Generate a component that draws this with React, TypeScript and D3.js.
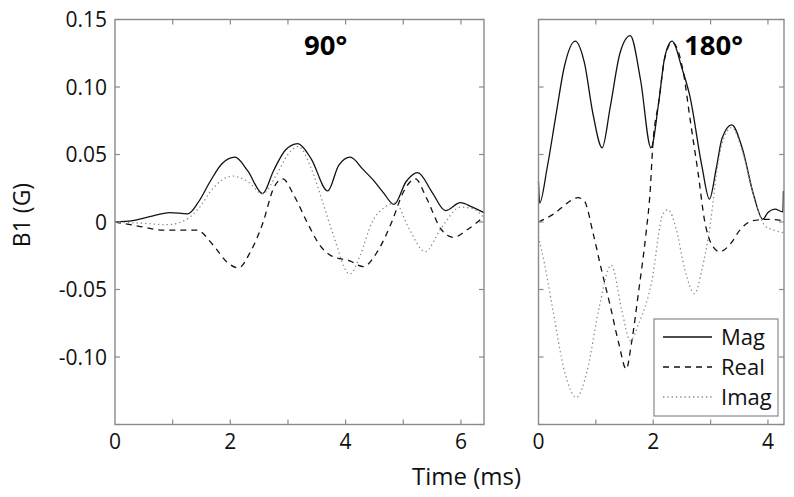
import React from "react";
import * as d3 from "d3";

// ---- Data (time in ms, B1 in G) ----
const magL_t = [0, 0.3, 0.6, 0.95, 1.26, 1.45, 1.65, 1.85, 2.08, 2.3, 2.56, 2.75, 2.95, 3.17, 3.4, 3.69, 3.88, 4.08, 4.3, 4.48, 4.65, 4.84, 5.05, 5.25, 5.5, 5.73, 5.99, 6.2, 6.4];
const magL_v = [0, 0.001, 0.004, 0.007, 0.006, 0.015, 0.03, 0.043, 0.048, 0.038, 0.021, 0.038, 0.053, 0.058, 0.047, 0.023, 0.042, 0.048, 0.039, 0.031, 0.022, 0.013, 0.03, 0.0366, 0.022, 0.0084, 0.0143, 0.011, 0.0069];

const realL_t = [0, 0.4, 0.84, 1.1, 1.42, 1.7, 1.95, 2.14, 2.35, 2.57, 2.75, 2.91, 3.1, 3.33, 3.55, 3.73, 4.08, 4.31, 4.55, 4.8, 5.0, 5.21, 5.4, 5.65, 5.87, 6.1, 6.4];
const realL_v = [0, -0.003, -0.006, -0.006, -0.006, -0.017, -0.03, -0.034, -0.022, 0.0, 0.025, 0.032, 0.02, 0.0, -0.017, -0.0245, -0.029, -0.033, -0.022, 0.0, 0.022, 0.032, 0.018, -0.005, -0.0114, -0.006, 0.004];

const imagL_t = [0, 0.5, 0.9, 1.2, 1.45, 1.7, 2.03, 2.3, 2.56, 2.8, 3.0, 3.18, 3.4, 3.6, 3.79, 4.07, 4.25, 4.46, 4.65, 4.86, 5.1, 5.38, 5.65, 6.0, 6.2, 6.4];
const imagL_v = [0, -0.001, -0.002, 0.001, 0.01, 0.025, 0.034, 0.03, 0.021, 0.035, 0.05, 0.056, 0.04, 0.015, -0.01, -0.0386, -0.025, 0.0, 0.01, 0.014, -0.005, -0.022, -0.005, 0.011, 0.01, 0.003];

const magR_t = [0, 0.02, 0.15, 0.3, 0.45, 0.64, 0.8, 0.95, 1.11, 1.25, 1.42, 1.6, 1.78, 1.96, 2.1, 2.2, 2.33, 2.5, 2.64, 2.85, 2.98, 3.1, 3.2, 3.37, 3.55, 3.75, 3.91, 4.0, 4.12, 4.26, 4.27];
const magR_v = [0.03, 0.014, 0.04, 0.078, 0.115, 0.134, 0.118, 0.08, 0.055, 0.085, 0.125, 0.138, 0.105, 0.055, 0.09, 0.122, 0.134, 0.114, 0.093, 0.041, 0.017, 0.04, 0.062, 0.072, 0.055, 0.02, 0.002, 0.007, 0.0095, 0.0075, 0.023];

const realR_t = [0, 0.3, 0.5, 0.69, 0.8, 0.95, 1.09, 1.25, 1.4, 1.53, 1.62, 1.75, 1.87, 1.95, 1.99, 2.1, 2.2, 2.33, 2.52, 2.65, 2.78, 2.9, 3.0, 3.16, 3.35, 3.51, 3.74, 4.0, 4.27];
const realR_v = [0, 0.007, 0.014, 0.018, 0.0156, -0.008, -0.034, -0.062, -0.09, -0.109, -0.09, -0.05, -0.01, 0.025, 0.055, 0.09, 0.121, 0.133, 0.112, 0.074, 0.037, 0.0, -0.015, -0.022, -0.016, -0.006, 0.001, 0.002, 0.001];

const imagR_t = [0, 0.1, 0.25, 0.45, 0.66, 0.85, 1.05, 1.27, 1.45, 1.6, 1.75, 1.97, 2.17, 2.26, 2.4, 2.55, 2.72, 2.85, 3.0, 3.1, 3.2, 3.37, 3.55, 3.75, 3.95, 4.1, 4.27];
const imagR_v = [-0.011, -0.03, -0.065, -0.11, -0.13, -0.11, -0.065, -0.032, -0.065, -0.088, -0.075, -0.045, 0.006, 0.009, -0.005, -0.035, -0.053, -0.035, 0.0, 0.035, 0.058, 0.07, 0.053, 0.02, -0.003, -0.006, -0.008];

const yTicks = [0.15, 0.1, 0.05, 0, -0.05, -0.1, -0.15];
const yTickLabels = ["0.15", "0.10", "0.05", "0", "-0.05", "-0.10", ""];
const xTicksL = [1, 2, 3, 4, 5, 6];
const xLabelsL = [0, 2, 4, 6];
const xTicksR = [1, 2, 3, 4];
const xLabelsR = [0, 2, 4];
const legendNames = ["Mag", "Real", "Imag"];
const titles = ["90°", "180°"];

const FONT = "'Open Sans', 'Noto Sans', sans-serif";
const FRAME = "#8a8a8a";

const yScale = d3.scaleLinear().domain([-0.15, 0.15]).range([424.5, 19.5]);
const xL = d3.scaleLinear().domain([0, 6.4]).range([115, 484]);
const xR = d3.scaleLinear().domain([0, 4.28]).range([538.5, 784]);

const styles = [
  { stroke: "#111", dash: undefined as string | undefined, width: 1.3 },
  { stroke: "#111", dash: "6,5", width: 1.3 },
  { stroke: "#888", dash: "1.3,3", width: 1.3 },
];

function makePath(x: d3.ScaleLinear<number, number>, ts: number[], vs: number[]) {
  const line = d3
    .line<number>()
    .x((_, i) => x(ts[i]))
    .y((v) => yScale(v))
    .curve(d3.curveMonotoneX);
  return line(vs) || "";
}

function Panel({ x, xTicks, xLabels, showY, series, title, titleX }: any) {
  const [x0, x1] = x.range();
  const [yb, yt] = yScale.range();
  const tl = 5;
  return (
    <g>
      {series.map((s: any, i: number) => (
        <path
          key={i}
          d={makePath(x, s[0], s[1])}
          fill="none"
          stroke={styles[i].stroke}
          strokeWidth={styles[i].width}
          strokeDasharray={styles[i].dash}
        />
      ))}
      <rect x={x0} y={yt} width={x1 - x0} height={yb - yt} fill="none" stroke={FRAME} strokeWidth={1.4} />
      {xTicks.map((t: number) => (
        <g key={"xt" + t}>
          <line x1={x(t)} x2={x(t)} y1={yb} y2={yb - tl} stroke={FRAME} strokeWidth={1.2} />
          <line x1={x(t)} x2={x(t)} y1={yt} y2={yt + tl} stroke={FRAME} strokeWidth={1.2} />
        </g>
      ))}
      {yTicks.map((v: number) => (
        <g key={"yt" + v}>
          <line x1={x0} x2={x0 + tl} y1={yScale(v)} y2={yScale(v)} stroke={FRAME} strokeWidth={1.2} />
          <line x1={x1} x2={x1 - tl} y1={yScale(v)} y2={yScale(v)} stroke={FRAME} strokeWidth={1.2} />
        </g>
      ))}
      {xLabels.map((t: number) => (
        <text key={"xl" + t} x={x(t)} y={449} textAnchor="middle" fontSize={21} fontFamily={FONT} fill="#111">
          {t}
        </text>
      ))}
      {showY &&
        yTicks.map((v: number, i: number) => (
          <text key={"yl" + v} x={107} y={yScale(v) + 7.5} textAnchor="end" fontSize={21} fontFamily={FONT} fill="#111">
            {yTickLabels[i]}
          </text>
        ))}
      <text x={titleX} y={55} fontSize={27.5} fontWeight="bold" fontFamily={FONT} fill="#000">
        {title}
      </text>
    </g>
  );
}

export default function App() {
  const legendY = [337, 367, 397];
  return (
    <svg width={794} height={497} style={{ position: "absolute", left: 0, top: 0, background: "#fff" }}>
      <rect x={0} y={0} width={794} height={497} fill="#fff" />
      <Panel
        x={xL}
        xTicks={xTicksL}
        xLabels={xLabelsL}
        showY={true}
        series={[[magL_t, magL_v], [realL_t, realL_v], [imagL_t, imagL_v]]}
        title={titles[0]}
        titleX={304}
      />
      <Panel
        x={xR}
        xTicks={xTicksR}
        xLabels={xLabelsR}
        showY={false}
        series={[[magR_t, magR_v], [realR_t, realR_v], [imagR_t, imagR_v]]}
        title={titles[1]}
        titleX={684}
      />
      <g>
        <rect x={654} y={319} width={124} height={97} fill="#fff" stroke={FRAME} strokeWidth={1.2} />
        {legendNames.map((n, i) => (
          <g key={n}>
            <line
              x1={663}
              x2={712}
              y1={legendY[i]}
              y2={legendY[i]}
              stroke={styles[i].stroke}
              strokeWidth={styles[i].width}
              strokeDasharray={styles[i].dash}
            />
            <text x={721} y={legendY[i] + 8} fontSize={22} fontFamily={FONT} fill="#111">
              {n}
            </text>
          </g>
        ))}
      </g>
      <text
        transform={`translate(30,215) rotate(-90)`}
        textAnchor="middle"
        fontSize={23}
        fontFamily={FONT}
        fill="#111"
      >
        B1 (G)
      </text>
      <text x={466.5} y={485} textAnchor="middle" fontSize={24} fontFamily={FONT} fill="#111">
        Time (ms)
      </text>
    </svg>
  );
}
